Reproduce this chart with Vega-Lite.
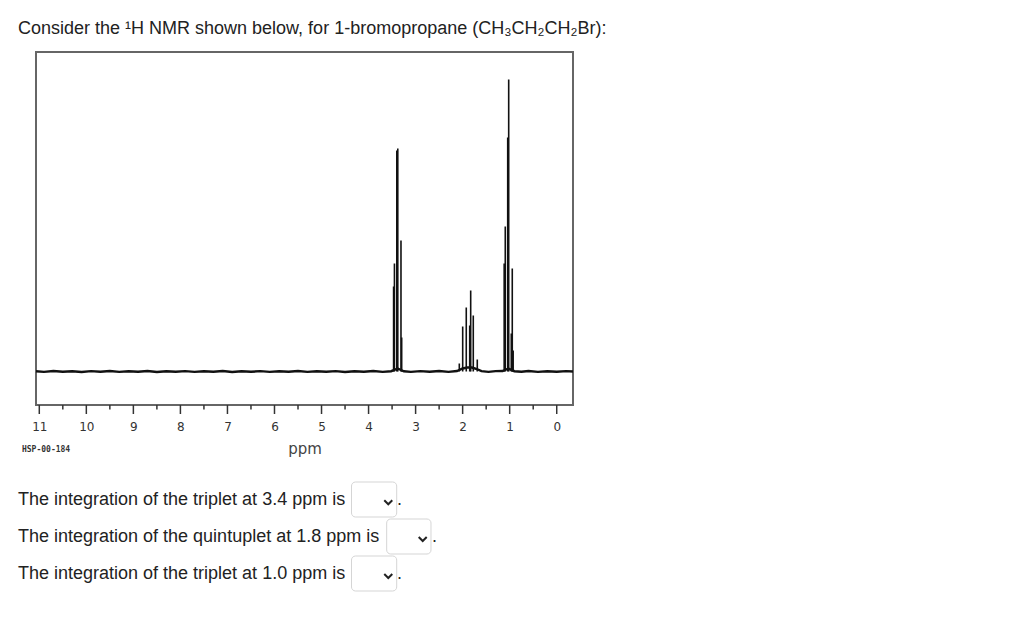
{
  "$schema": "https://vega.github.io/schema/vega-lite/v6.json",
  "width": 537,
  "height": 353,
  "autosize": {"type": "none"},
  "padding": {"left": 36, "top": 52, "right": 451, "bottom": 230},
  "background": "white",
  "config": {"view": {"stroke": "#666", "strokeWidth": 2}},
  "title": {
    "text": "Consider the ¹H NMR shown below, for 1-bromopropane (CH₃CH₂CH₂Br):",
    "anchor": "start",
    "frame": "group",
    "dx": -18,
    "offset": 0,
    "baseline": "alphabetic",
    "font": "Liberation Sans",
    "fontSize": 18,
    "fontWeight": "normal",
    "color": "#222"
  },
  "layer": [
    {
      "data": {"values": [
        {"ppm": 11.07, "intensity": 0.3}, {"ppm": 10.9, "intensity": -0.4}, {"ppm": 10.7, "intensity": 0.5},
        {"ppm": 10.5, "intensity": -0.3}, {"ppm": 10.3, "intensity": 0.2}, {"ppm": 10.1, "intensity": -0.5},
        {"ppm": 9.9, "intensity": 0.4}, {"ppm": 9.7, "intensity": -0.2}, {"ppm": 9.5, "intensity": 0.5},
        {"ppm": 9.3, "intensity": -0.4}, {"ppm": 9.1, "intensity": 0.3}, {"ppm": 8.9, "intensity": -0.3},
        {"ppm": 8.7, "intensity": 0.5}, {"ppm": 8.5, "intensity": -0.5}, {"ppm": 8.3, "intensity": 0.2},
        {"ppm": 8.1, "intensity": -0.3}, {"ppm": 7.9, "intensity": 0.4}, {"ppm": 7.7, "intensity": -0.4},
        {"ppm": 7.5, "intensity": 0.3}, {"ppm": 7.3, "intensity": -0.2}, {"ppm": 7.1, "intensity": 0.5},
        {"ppm": 6.9, "intensity": -0.5}, {"ppm": 6.7, "intensity": 0.3}, {"ppm": 6.5, "intensity": -0.3},
        {"ppm": 6.3, "intensity": 0.4}, {"ppm": 6.1, "intensity": -0.4}, {"ppm": 5.9, "intensity": 0.2},
        {"ppm": 5.7, "intensity": -0.3}, {"ppm": 5.5, "intensity": 0.5}, {"ppm": 5.3, "intensity": -0.4},
        {"ppm": 5.1, "intensity": 0.3}, {"ppm": 4.9, "intensity": -0.2}, {"ppm": 4.7, "intensity": 0.4},
        {"ppm": 4.5, "intensity": -0.5}, {"ppm": 4.3, "intensity": 0.3}, {"ppm": 4.1, "intensity": -0.3},
        {"ppm": 3.9, "intensity": 0.5}, {"ppm": 3.7, "intensity": -0.4}, {"ppm": 3.52, "intensity": 0.3},
        {"ppm": 3.38, "intensity": 3}, {"ppm": 3.25, "intensity": 0.2}, {"ppm": 3.1, "intensity": -0.4},
        {"ppm": 2.9, "intensity": 0.4}, {"ppm": 2.7, "intensity": -0.3}, {"ppm": 2.5, "intensity": 0.5},
        {"ppm": 2.3, "intensity": -0.4}, {"ppm": 2.12, "intensity": 0.5}, {"ppm": 2.0, "intensity": 3},
        {"ppm": 1.9, "intensity": 4}, {"ppm": 1.8, "intensity": 4}, {"ppm": 1.7, "intensity": 2.5},
        {"ppm": 1.6, "intensity": 0.3}, {"ppm": 1.45, "intensity": -0.4}, {"ppm": 1.3, "intensity": 0.4},
        {"ppm": 1.15, "intensity": 0.5}, {"ppm": 1.03, "intensity": 3}, {"ppm": 0.9, "intensity": 0.3},
        {"ppm": 0.75, "intensity": -0.3}, {"ppm": 0.6, "intensity": 0.5}, {"ppm": 0.4, "intensity": -0.4},
        {"ppm": 0.2, "intensity": 0.3}, {"ppm": 0.0, "intensity": -0.3}, {"ppm": -0.2, "intensity": 0.4},
        {"ppm": -0.346, "intensity": 0}
      ]},
      "mark": {"type": "line", "color": "#111", "strokeWidth": 2.4},
      "encoding": {
        "x": {
          "field": "ppm", "type": "quantitative",
          "scale": {"domain": [-0.346, 11.07], "reverse": true, "nice": false, "zero": false},
          "axis": {
            "title": "ppm",
            "values": [0, 1, 2, 3, 4, 5, 6, 7, 8, 9, 10, 11],
            "format": "d",
            "ticks": false,
            "domain": false,
            "grid": false,
            "labelOverlap": false,
            "labelFlush": false,
            "labelFont": "DejaVu Sans",
            "labelFontSize": 12,
            "labelColor": "#333",
            "labelPadding": 16,
            "titleFont": "DejaVu Sans",
            "titleFontSize": 15,
            "titleFontWeight": "normal",
            "titleColor": "#444",
            "titlePadding": 9
          }
        },
        "y": {
          "field": "intensity", "type": "quantitative",
          "scale": {"domain": [-33.5, 319.5], "nice": false, "zero": false},
          "axis": null
        }
      }
    },
    {
      "data": {"values": [
        {"ppm": 0}, {"ppm": 1}, {"ppm": 2}, {"ppm": 3}, {"ppm": 4}, {"ppm": 5},
        {"ppm": 6}, {"ppm": 7}, {"ppm": 8}, {"ppm": 9}, {"ppm": 10}, {"ppm": 11}
      ]},
      "mark": {"type": "rule", "color": "#333", "strokeWidth": 1.5},
      "encoding": {
        "x": {"field": "ppm", "type": "quantitative"},
        "y": {"datum": -33.5},
        "y2": {"datum": -42.5}
      }
    },
    {
      "data": {"values": [
        {"ppm": 0.5}, {"ppm": 1.5}, {"ppm": 2.5}, {"ppm": 3.5}, {"ppm": 4.5}, {"ppm": 5.5},
        {"ppm": 6.5}, {"ppm": 7.5}, {"ppm": 8.5}, {"ppm": 9.5}, {"ppm": 10.5}
      ]},
      "mark": {"type": "rule", "color": "#333", "strokeWidth": 1.5},
      "encoding": {
        "x": {"field": "ppm", "type": "quantitative"},
        "y": {"datum": -33.5},
        "y2": {"datum": -38}
      }
    },
    {
      "data": {"values": [
        {"ppm": 3.468, "intensity": 85}, {"ppm": 3.450, "intensity": 108}, {"ppm": 3.400, "intensity": 221},
        {"ppm": 3.379, "intensity": 223}, {"ppm": 3.311, "intensity": 131}, {"ppm": 3.296, "intensity": 34},
        {"ppm": 2.071, "intensity": 8}, {"ppm": 1.999, "intensity": 45}, {"ppm": 1.923, "intensity": 64},
        {"ppm": 1.850, "intensity": 46}, {"ppm": 1.829, "intensity": 81}, {"ppm": 1.774, "intensity": 56},
        {"ppm": 1.689, "intensity": 12}, {"ppm": 1.117, "intensity": 108}, {"ppm": 1.094, "intensity": 145},
        {"ppm": 1.042, "intensity": 234}, {"ppm": 1.021, "intensity": 292}, {"ppm": 0.966, "intensity": 38},
        {"ppm": 0.945, "intensity": 103}, {"ppm": 0.926, "intensity": 21}
      ]},
      "mark": {"type": "rule", "color": "#111", "strokeWidth": 1.6},
      "encoding": {
        "x": {"field": "ppm", "type": "quantitative"},
        "y": {"field": "intensity", "type": "quantitative"},
        "y2": {"datum": 0}
      }
    },
    {
      "data": {"values": [{"label": "HSP-00-184"}]},
      "mark": {"type": "text", "align": "left", "baseline": "middle", "font": "DejaVu Sans Mono", "fontSize": 8, "fontWeight": "bold", "color": "#333"},
      "encoding": {"x": {"datum": 11.368}, "y": {"datum": -78.5}, "text": {"field": "label"}}
    },
    {
      "data": {"values": [{"label": ["The integration of the triplet at 3.4 ppm is", "The integration of the quintuplet at 1.8 ppm is", "The integration of the triplet at 1.0 ppm is"]}]},
      "mark": {"type": "text", "align": "left", "baseline": "alphabetic", "lineHeight": 37, "font": "Liberation Sans", "fontSize": 18, "color": "#222"},
      "encoding": {"x": {"datum": 11.453}, "y": {"datum": -133}, "text": {"field": "label"}}
    },
    {
      "data": {"values": [{}]},
      "mark": {"type": "rect", "fill": "white", "stroke": "#d5d5d5", "strokeWidth": 1, "cornerRadius": 4},
      "encoding": {"x": {"datum": 4.363}, "x2": {"datum": 3.402}, "y": {"datum": -110.5}, "y2": {"datum": -145.5}}
    },
    {
      "data": {"values": [{}]},
      "mark": {"type": "rect", "fill": "white", "stroke": "#d5d5d5", "strokeWidth": 1, "cornerRadius": 4},
      "encoding": {"x": {"datum": 3.615}, "x2": {"datum": 2.673}, "y": {"datum": -147.5}, "y2": {"datum": -182.5}}
    },
    {
      "data": {"values": [{}]},
      "mark": {"type": "rect", "fill": "white", "stroke": "#d5d5d5", "strokeWidth": 1, "cornerRadius": 4},
      "encoding": {"x": {"datum": 4.363}, "x2": {"datum": 3.402}, "y": {"datum": -184.5}, "y2": {"datum": -219.5}}
    },
    {
      "data": {"values": [{}]},
      "mark": {"type": "point", "shape": "M-1,-0.5L0,0.5L1,-0.5", "size": 64, "filled": false, "stroke": "#222", "strokeWidth": 2, "opacity": 1},
      "encoding": {"x": {"datum": 3.581}, "y": {"datum": -130.8}}
    },
    {
      "data": {"values": [{}]},
      "mark": {"type": "point", "shape": "M-1,-0.5L0,0.5L1,-0.5", "size": 64, "filled": false, "stroke": "#222", "strokeWidth": 2, "opacity": 1},
      "encoding": {"x": {"datum": 2.849}, "y": {"datum": -167.5}}
    },
    {
      "data": {"values": [{}]},
      "mark": {"type": "point", "shape": "M-1,-0.5L0,0.5L1,-0.5", "size": 64, "filled": false, "stroke": "#222", "strokeWidth": 2, "opacity": 1},
      "encoding": {"x": {"datum": 3.581}, "y": {"datum": -204.5}}
    },
    {
      "data": {"values": [{"label": "."}]},
      "mark": {"type": "text", "align": "left", "baseline": "alphabetic", "font": "Liberation Sans", "fontSize": 18, "color": "#222"},
      "encoding": {"x": {"datum": 3.396}, "y": {"datum": -133}, "text": {"field": "label"}}
    },
    {
      "data": {"values": [{"label": "."}]},
      "mark": {"type": "text", "align": "left", "baseline": "alphabetic", "font": "Liberation Sans", "fontSize": 18, "color": "#222"},
      "encoding": {"x": {"datum": 2.652}, "y": {"datum": -170}, "text": {"field": "label"}}
    },
    {
      "data": {"values": [{"label": "."}]},
      "mark": {"type": "text", "align": "left", "baseline": "alphabetic", "font": "Liberation Sans", "fontSize": 18, "color": "#222"},
      "encoding": {"x": {"datum": 3.396}, "y": {"datum": -207}, "text": {"field": "label"}}
    }
  ]
}
